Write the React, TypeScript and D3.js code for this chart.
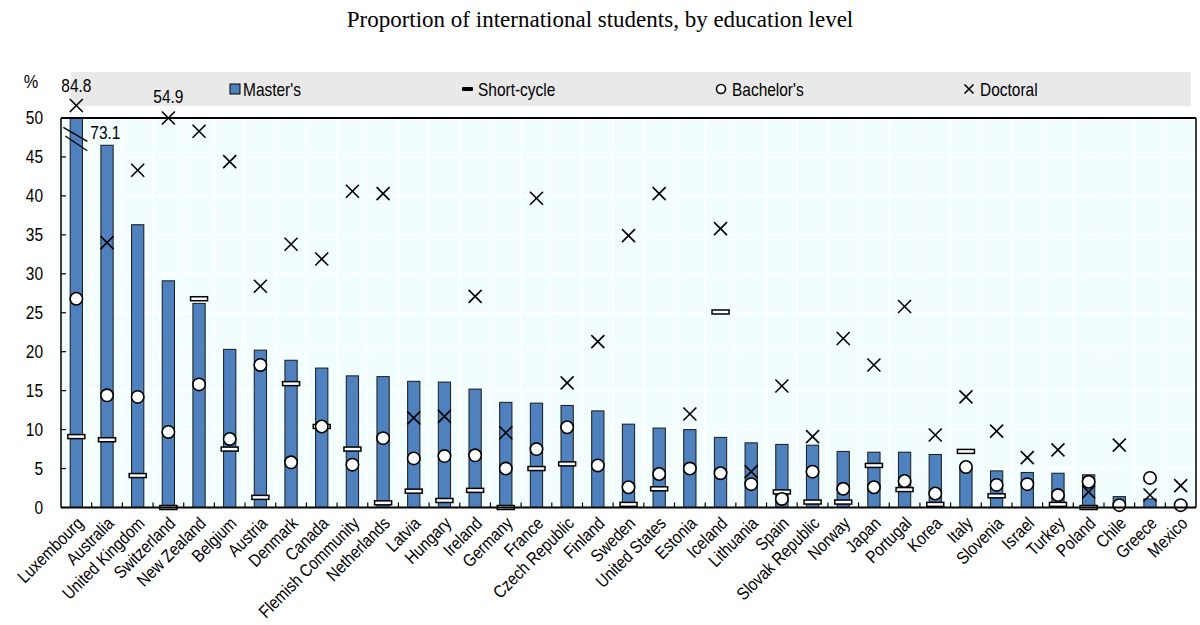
import React from 'react';
import * as d3 from 'd3';

const countries = [
  'Luxembourg', 'Australia', 'United Kingdom', 'Switzerland', 'New Zealand', 'Belgium', 'Austria',
  'Denmark', 'Canada', 'Flemish Community', 'Netherlands', 'Latvia', 'Hungary', 'Ireland', 'Germany',
  'France', 'Czech Republic', 'Finland', 'Sweden', 'United States', 'Estonia', 'Iceland', 'Lithuania',
  'Spain', 'Slovak Republic', 'Norway', 'Japan', 'Portugal', 'Korea', 'Italy', 'Slovenia', 'Israel',
  'Turkey', 'Poland', 'Chile', 'Greece', 'Mexico',
];

const masters = [
  73.1, 46.5, 36.3, 29.1, 26.2, 20.3, 20.2, 18.9, 17.9, 16.9, 16.8, 16.2, 16.1, 15.2, 13.5, 13.4, 13.1,
  12.4, 10.7, 10.2, 10.0, 9.0, 8.3, 8.1, 8.0, 7.2, 7.1, 7.1, 6.8, 5.0, 4.7, 4.5, 4.4, 4.2, 1.4, 1.1, 0.4,
];

const shortCycle: (number | null)[] = [
  9.1, 8.7, 4.1, 0.0, 26.8, 7.5, 1.3, 15.9, 10.4, 7.5, 0.6, 2.1, 0.9, 2.2, 0.0, 5.0, 5.6,
  null, 0.4, 2.4, null, 25.1, null, 2.0, 0.7, 0.7, 5.4, 2.3, 0.4, 7.2, 1.5, null, 0.4, 0.0, null, null, null,
];

const bachelors = [
  26.8, 14.4, 14.2, 9.7, 15.8, 8.8, 18.3, 5.8, 10.4, 5.5, 8.9, 6.3, 6.6, 6.7, 5.0, 7.5, 10.3,
  5.4, 2.6, 4.3, 5.0, 4.4, 3.0, 1.1, 4.6, 2.4, 2.6, 3.4, 1.8, 5.2, 2.9, 3.0, 1.6, 3.3, 0.3, 3.8, 0.3,
];

const doctoral = [
  84.8, 34.0, 43.3, 54.9, 48.3, 44.4, 28.4, 33.8, 31.9, 40.6, 40.3, 11.5, 11.7, 27.1, 9.6, 39.7, 16.0,
  21.3, 34.9, 40.3, 12.0, 35.8, 4.6, 15.6, 9.1, 21.7, 18.3, 25.8, 9.3, 14.2, 9.8, 6.4, 7.4, 2.0, 8.0, 1.6, 2.8,
];

const yTicks = [0, 5, 10, 15, 20, 25, 30, 35, 40, 45, 50];
const yMax = 50;
// where out-of-range doctoral values are shown (value above the axis maximum)
const doctoralShownAt: Record<string, number> = { Luxembourg: 51.6, Switzerland: 50 };

const legendItems = ["Master's", 'Short-cycle', "Bachelor's", 'Doctoral'];
const title = 'Proportion of international students, by education level';

const FONT = "'Liberation Sans', Arial, sans-serif";
const NARROW = 0.86;
const BLUE = '#4E81BD';
const BG = '#F2FEFE';

function NText(props: { x: number; y: number; anchor?: string; size?: number; dy?: string; children: React.ReactNode }) {
  const { x, y, anchor = 'start', size = 18, dy, children } = props;
  return (
    <text transform={`translate(${x},${y}) scale(${NARROW},1)`} textAnchor={anchor} dy={dy}
      fontFamily={FONT} fontSize={size} fill="#000">{children}</text>
  );
}

export default function App() {
  const W = 1200, H = 625;
  const left = 61, right = 1196, top = 118, bottom = 507.5;

  const x = d3.scaleBand<string>().domain(countries).range([left, right]).paddingInner(0.6).paddingOuter(0.3);
  const y = d3.scaleLinear().domain([0, yMax]).range([bottom, top]);
  const step = x.step();
  const bw = x.bandwidth();
  const cx = (c: string) => (x(c) as number) + bw / 2;
  const bound = (c: string) => (x(c) as number) - (step - bw) / 2;

  const clip = (v: number) => Math.min(v, yMax);

  const xMark = (px: number, py: number, s: number, key: string) => (
    <g key={key} stroke="#000" strokeWidth={1.6}>
      <line x1={px - s} y1={py - s} x2={px + s} y2={py + s} />
      <line x1={px - s} y1={py + s} x2={px + s} y2={py - s} />
    </g>
  );

  const luxX = cx(countries[0]);

  const legendY = 89;
  const legendXs = [230, 462, 721, 969];

  return (
    <svg width={W} height={H} style={{ position: 'absolute', left: 0, top: 0, background: '#fff' }}>
      <text x={600} y={27} textAnchor="middle" fontFamily="'Liberation Serif', 'Times New Roman', serif" fontSize={23}>
        {title}
      </text>

      {/* legend band */}
      <rect x={71} y={72} width={1120} height={34} fill="#E9E9E9" />
      {legendItems.map((name, i) => {
        const lx = legendXs[i];
        let sym: React.ReactNode = null;
        if (i === 0) sym = <rect x={lx} y={legendY - 5} width={10} height={10} fill={BLUE} stroke="#000" strokeWidth={1} />;
        if (i === 1) sym = <rect x={lx} y={legendY - 2} width={11} height={4} rx={1} fill="#000" />;
        if (i === 2) sym = <circle cx={lx} cy={legendY} r={4.5} fill="#fff" stroke="#000" strokeWidth={1.6} />;
        if (i === 3) sym = xMark(lx, legendY, 4.5, 'lg');
        const tx = i === 0 ? lx + 13 : i === 1 ? lx + 16 : lx + 11;
        return (
          <g key={name}>
            {sym}
            <NText x={tx} y={legendY + 6.5}>{name}</NText>
          </g>
        );
      })}

      {/* plot background */}
      <rect x={left} y={top} width={right - left} height={bottom - top} fill={BG} />
      {/* gridlines */}
      {yTicks.filter(t => t > 0 && t < yMax).map(t => (
        <line key={'h' + t} x1={left} x2={right} y1={y(t)} y2={y(t)} stroke="#fff" strokeWidth={1.5} />
      ))}
      {countries.slice(1).map(c => (
        <line key={'v' + c} x1={bound(c)} x2={bound(c)} y1={top} y2={bottom} stroke="#fff" strokeWidth={1.5} />
      ))}

      {/* bars */}
      {countries.map((c, i) => (
        <rect key={'b' + c} x={x(c)} y={y(clip(masters[i]))} width={bw} height={bottom - y(clip(masters[i]))}
          fill={BLUE} stroke="#1a1a1a" strokeWidth={1} />
      ))}

      {/* axis break on Luxembourg bar */}
      <line x1={luxX - 13} y1={y(48.8)} x2={luxX + 11} y2={y(47.0)} stroke="#000" strokeWidth={1.3} />
      <line x1={luxX - 11} y1={y(47.7)} x2={luxX + 11} y2={y(45.8)} stroke="#000" strokeWidth={1.3} />

      {/* short-cycle */}
      {countries.map((c, i) => shortCycle[i] == null ? null : (
        <rect key={'s' + c} x={cx(c) - 8.5} y={y(shortCycle[i] as number) - 2} width={17} height={4}
          fill="#fff" stroke="#000" strokeWidth={1.5} />
      ))}
      {/* bachelor's */}
      {countries.map((c, i) => (
        <circle key={'c' + c} cx={cx(c)} cy={y(bachelors[i])} r={6.2} fill="#fff" stroke="#000" strokeWidth={1.6} />
      ))}
      {/* doctoral */}
      {countries.map((c, i) => {
        const v = doctoral[i] > yMax ? (doctoralShownAt[c] ?? yMax) : doctoral[i];
        return xMark(cx(c), y(v), 6.5, 'd' + c);
      })}

      {/* frame and axes */}
      <line x1={left} x2={right} y1={top} y2={top} stroke="#000" strokeWidth={1.8} />
      <line x1={right} x2={right} y1={top} y2={bottom} stroke="#000" strokeWidth={1.5} />
      <line x1={left} x2={left} y1={top} y2={bottom} stroke="#000" strokeWidth={1.5} />
      <line x1={left} x2={right} y1={bottom} y2={bottom} stroke="#000" strokeWidth={2} />
      {yTicks.map(t => (
        <g key={'yt' + t}>
          <line x1={left} x2={left + 5} y1={y(t)} y2={y(t)} stroke="#000" strokeWidth={1.2} />
          <NText x={43} y={y(t)} dy="0.36em" anchor="end">{t}</NText>
        </g>
      ))}
      {countries.slice(1).map(c => (
        <line key={'xt' + c} x1={bound(c)} x2={bound(c)} y1={bottom} y2={bottom - 5} stroke="#000" strokeWidth={1.2} />
      ))}
      <NText x={31} y={88} anchor="middle" size={19}>%</NText>

      {/* value labels for out-of-range values */}
      <NText x={luxX} y={y(doctoralShownAt.Luxembourg) - 14} anchor="middle">{doctoral[0]}</NText>
      <NText x={luxX + 14} y={y(47.0) - 2} anchor="start">{masters[0]}</NText>
      <NText x={cx('Switzerland')} y={y(doctoralShownAt.Switzerland) - 15} anchor="middle">{doctoral[3]}</NText>

      {/* x labels */}
      {countries.map(c => (
        <text key={'xl' + c} transform={`translate(${cx(c) + 8},${bottom + 17}) rotate(-45) scale(${NARROW},1)`} textAnchor="end"
          fontFamily={FONT} fontSize={17.6}>{c}</text>
      ))}
    </svg>
  );
}
